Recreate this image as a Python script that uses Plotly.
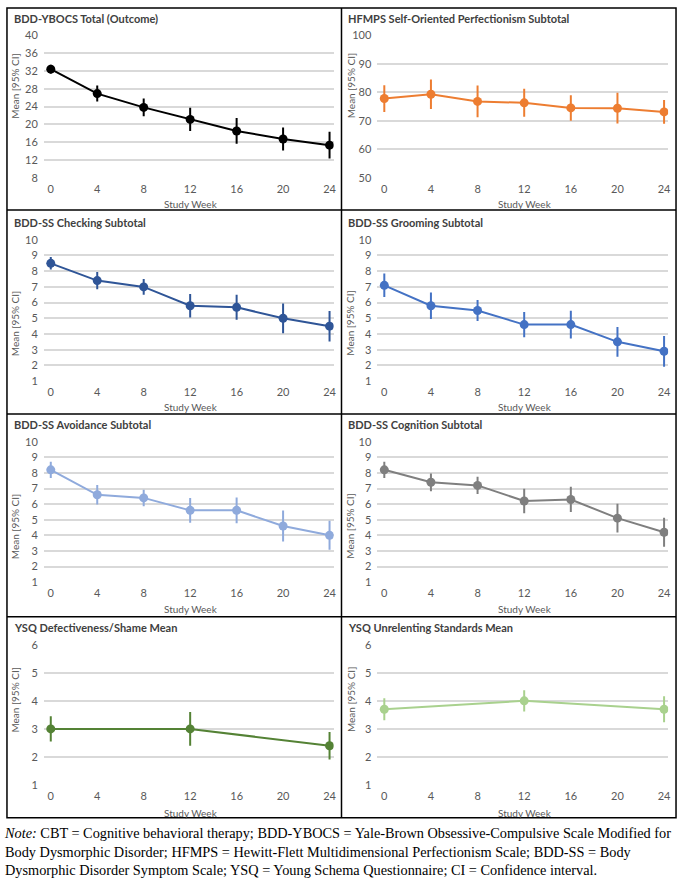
import plotly.graph_objects as go

W, H = 685, 880

weeks = [0, 4, 8, 12, 16, 20, 24]
weeks_ysq = [0, 12, 24]

titles = [
    "BDD-YBOCS Total (Outcome)",
    "HFMPS Self-Oriented Perfectionism Subtotal",
    "BDD-SS Checking Subtotal",
    "BDD-SS Grooming Subtotal",
    "BDD-SS Avoidance Subtotal",
    "BDD-SS Cognition Subtotal",
    "YSQ Defectiveness/Shame Mean",
    "YSQ Unrelenting Standards Mean",
]

ybocs_mean = [32.4, 26.9, 23.8, 21.1, 18.5, 16.7, 15.3]
ybocs_ci = [1.0, 1.8, 2.0, 2.6, 2.9, 2.6, 3.0]
hfmps_mean = [77.8, 79.3, 76.8, 76.3, 74.5, 74.4, 73.1]
hfmps_ci = [4.7, 5.2, 5.6, 4.9, 4.5, 5.4, 4.2]
checking_mean = [8.5, 7.4, 7.0, 5.8, 5.7, 5.0, 4.5]
checking_ci = [0.4, 0.55, 0.5, 0.75, 0.8, 0.95, 0.97]
grooming_mean = [7.1, 5.8, 5.5, 4.6, 4.6, 3.5, 2.9]
grooming_ci = [0.75, 0.85, 0.67, 0.8, 0.88, 0.95, 0.98]
avoidance_mean = [8.2, 6.6, 6.4, 5.6, 5.6, 4.6, 4.0]
avoidance_ci = [0.52, 0.63, 0.53, 0.79, 0.83, 0.99, 0.93]
cognition_mean = [8.2, 7.4, 7.2, 6.2, 6.3, 5.1, 4.2]
cognition_ci = [0.52, 0.57, 0.55, 0.79, 0.81, 0.92, 0.93]
defect_mean = [3.0, 3.0, 2.4]
defect_ci = [0.45, 0.6, 0.49]
unrelent_mean = [3.7, 4.0, 3.7]
unrelent_ci = [0.39, 0.38, 0.46]

series = [
    (weeks, ybocs_mean, ybocs_ci),
    (weeks, hfmps_mean, hfmps_ci),
    (weeks, checking_mean, checking_ci),
    (weeks, grooming_mean, grooming_ci),
    (weeks, avoidance_mean, avoidance_ci),
    (weeks, cognition_mean, cognition_ci),
    (weeks_ysq, defect_mean, defect_ci),
    (weeks_ysq, unrelent_mean, unrelent_ci),
]
colors = ["#000000", "#ED7D31", "#2F5597", "#4472C4", "#8FAADC", "#7F7F7F", "#548235", "#A9D18E"]

y_ranges = [(8, 40, 4), (50, 100, 10), (1, 10, 1), (1, 10, 1), (1, 10, 1), (1, 10, 1), (1, 6, 1), (1, 6, 1)]
x_ticks = [0, 4, 8, 12, 16, 20, 24]

# layout geometry (pixels)
col_x0 = [51, 386]      # pixel of week 0
col_x24 = [331, 667]    # pixel of week 24
row_ytop = [28.5, 236, 441, 647]
row_ybot = [173.5, 380, 584, 790]
title_y = [12, 219, 424, 630]
title_x = [12, 348]
ytitle_x = [15, 352]
ytitle_cy = [80, 321, 527, 703]
xlab_y = [200, 406, 611, 818]
xlab_cx = [192, 527]

XMIN, XMAX = -0.6, 24.35

def px(x):
    return x / W

def py(y):
    return 1 - y / H

fig = go.Figure()
annotations = []
shapes = []
tick_font = dict(family="Lato, Carlito, sans-serif", size=11, color="#595959")

for i in range(8):
    r, c = divmod(i, 2)
    ax = "" if i == 0 else str(i + 1)
    xw, ym, yci = series[i]
    fig.add_trace(go.Scatter(
        x=xw, y=ym, mode="lines+markers",
        line=dict(color=colors[i], width=2),
        marker=dict(color=colors[i], size=9),
        error_y=dict(type="data", array=yci, visible=True, color=colors[i], thickness=2, width=0),
        xaxis="x" + ax, yaxis="y" + ax, showlegend=False, hoverinfo="x+y",
    ))
    ppu = (col_x24[c] - col_x0[c]) / 24.0
    d0 = col_x0[c] + XMIN * ppu
    d1 = col_x0[c] + XMAX * ppu
    lo, hi, dt = y_ranges[i]
    eps = (hi - lo) * 0.002
    fig.layout["xaxis" + ax] = dict(
        domain=[px(d0), px(d1)], range=[XMIN, XMAX], anchor="y" + ax,
        tickvals=x_ticks, showgrid=False, zeroline=False, showline=False,
        ticks="", tickfont=tick_font, ticklabelstandoff=3, fixedrange=True,
    )
    fig.layout["yaxis" + ax] = dict(
        domain=[py(row_ybot[r]), py(row_ytop[r])], range=[lo - eps, hi + eps],
        anchor="x" + ax, tick0=lo, dtick=dt, showgrid=True, gridcolor="#D9D9D9",
        gridwidth=1.5, zeroline=False, showline=False, ticks="", tickfont=tick_font,
        ticklabelstandoff=5, fixedrange=True,
    )
    annotations.append(dict(
        text="<b>" + titles[i] + "</b>", x=px(title_x[c]), y=py(title_y[r]),
        xref="paper", yref="paper", xanchor="left", yanchor="middle", showarrow=False,
        font=dict(family="Lato, Carlito, sans-serif", size=11, color="#404040"),
    ))
    annotations.append(dict(
        text="Mean [95% CI]", x=px(ytitle_x[c]), y=py(ytitle_cy[r]), textangle=-90,
        xref="paper", yref="paper", xanchor="center", yanchor="middle", showarrow=False,
        font=dict(family="Lato, Carlito, sans-serif", size=10, color="#595959"),
    ))
    annotations.append(dict(
        text="Study Week", x=px(xlab_cx[c]), y=py(xlab_y[r]),
        xref="paper", yref="paper", xanchor="center", yanchor="middle", showarrow=False,
        font=dict(family="Lato, Carlito, sans-serif", size=10, color="#595959"),
    ))

# panel borders
bx0, bx1, bmid = 7, 679, 343
by = [1, 206, 413, 619, 823]
line = dict(color="#000000", width=1.5)
shapes.append(dict(type="rect", xref="paper", yref="paper", x0=px(bx0), x1=px(bx1), y0=py(by[-1]), y1=py(by[0]), line=line))
shapes.append(dict(type="line", xref="paper", yref="paper", x0=px(bmid), x1=px(bmid), y0=py(by[-1]), y1=py(by[0]), line=line))
for yy in by[1:-1]:
    shapes.append(dict(type="line", xref="paper", yref="paper", x0=px(bx0), x1=px(bx1), y0=py(yy), y1=py(yy), line=line))

note = ("<i>Note:</i> CBT = Cognitive behavioral therapy; BDD-YBOCS = Yale-Brown Obsessive-Compulsive Scale Modified for<br>"
        "Body Dysmorphic Disorder; HFMPS = Hewitt-Flett Multidimensional Perfectionism Scale; BDD-SS = Body<br>"
        "Dysmorphic Disorder Symptom Scale; YSQ = Young Schema Questionnaire; CI = Confidence interval.")
annotations.append(dict(
    text=note, x=px(2), y=py(828), xref="paper", yref="paper", xanchor="left", yanchor="top",
    align="left", showarrow=False,
    font=dict(family="Liberation Serif, Times New Roman, serif", size=14.3, color="#000000"),
))

fig.update_layout(
    width=W, height=H, margin=dict(l=0, r=0, t=0, b=0),
    paper_bgcolor="white", plot_bgcolor="white",
    annotations=annotations, shapes=shapes, showlegend=False,
)

fig.write_html("out.html", config={"displayModeBar": False})
